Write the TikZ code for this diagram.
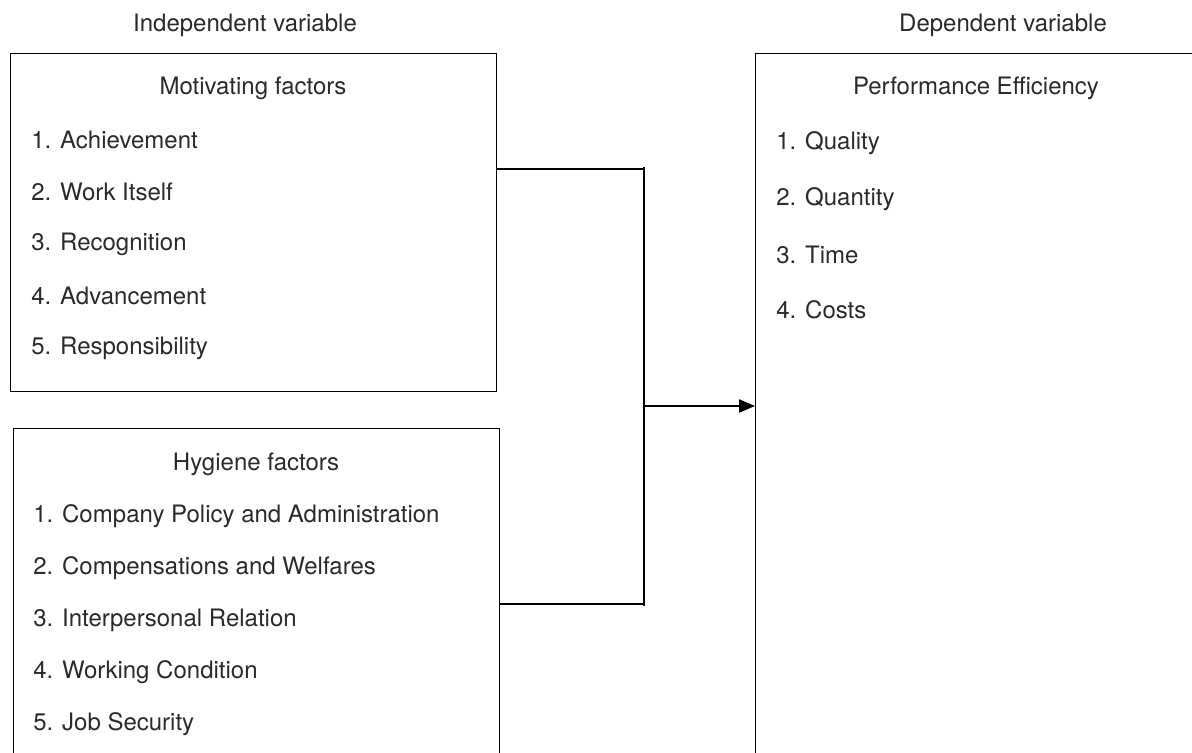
\documentclass[tikz,border=0pt]{standalone}
\usepackage{fontspec}
\setmainfont{TeX Gyre Heros}
\usetikzlibrary{positioning,arrows.meta}
\definecolor{inkgray}{HTML}{2A2A2A}

\begin{document}
\begin{tikzpicture}[
    x=0.75pt, y=-0.75pt,
    boxStyle/.style={rectangle, draw=black, line width=0.8pt, inner sep=0pt, anchor=north west},
    titleStyle/.style={font=\fontsize{18}{21}\selectfont, text=inkgray, inner sep=0pt},
    itemStyle/.style={font=\fontsize{18}{21}\selectfont, text=inkgray, inner sep=0pt, anchor=west},
    lineStyle/.style={draw=black, line width=0.8pt},
    arrowStyle/.style={-{Triangle[length=12pt,width=10pt]}, line width=0.8pt, draw=black}
]
    \clip (0,0) rectangle (1192,753);
    \fill[white] (0,0) rectangle (1192,753);

    % headings above the boxes
    \node[titleStyle] (indep) at (245,25) {Independent variable};
    \node[titleStyle] (dep) at (1003,25) {Dependent variable};

    % the three boxes (lower and right ones run past the page)
    \node[boxStyle, minimum width=364.5pt, minimum height=253.5pt] (mot) at (10,53) {};
    \node[boxStyle, minimum width=364.5pt, minimum height=279pt] (hyg) at (13,428) {};
    \node[boxStyle, minimum width=371pt, minimum height=560pt] (perf) at (755,53) {};

    \node[titleStyle] (motTitle) at (253,88) {Motivating factors};
    \foreach \txt [count=\i] in {Achievement, Work Itself, Recognition, Advancement, Responsibility}
        \node[itemStyle] (mot\i) at (31,88+52*\i) {\i. \txt};

    \node[titleStyle] (hygTitle) at (256,464) {Hygiene factors};
    \foreach \txt [count=\i] in {Company Policy and Administration, Compensations and Welfares,
        Interpersonal Relation, Working Condition, Job Security}
        \node[itemStyle] (hyg\i) at (33,464+52*\i) {\i. \txt};

    \node[titleStyle] (perfTitle) at (976,88) {Performance Efficiency};
    \foreach \txt [count=\i] in {Quality, Quantity, Time, Costs}
        \node[itemStyle] (perf\i) at (776,88+55.5*\i) {\i. \txt};

    % joining lines and arrow
    \coordinate (joinT) at (644,169);
    \coordinate (joinM) at (644,406);
    \coordinate (joinB) at (644,604);
    \draw[lineStyle] (mot.east |- joinT) -- (joinT);
    \draw[lineStyle] (hyg.east |- joinB) -- (joinB);
    \draw[lineStyle] ([yshift=1.5pt]joinT) -- ([yshift=-1.5pt]joinB);
    \draw[arrowStyle] (joinM) -- (perf.west |- joinM);
\end{tikzpicture}
\end{document}
